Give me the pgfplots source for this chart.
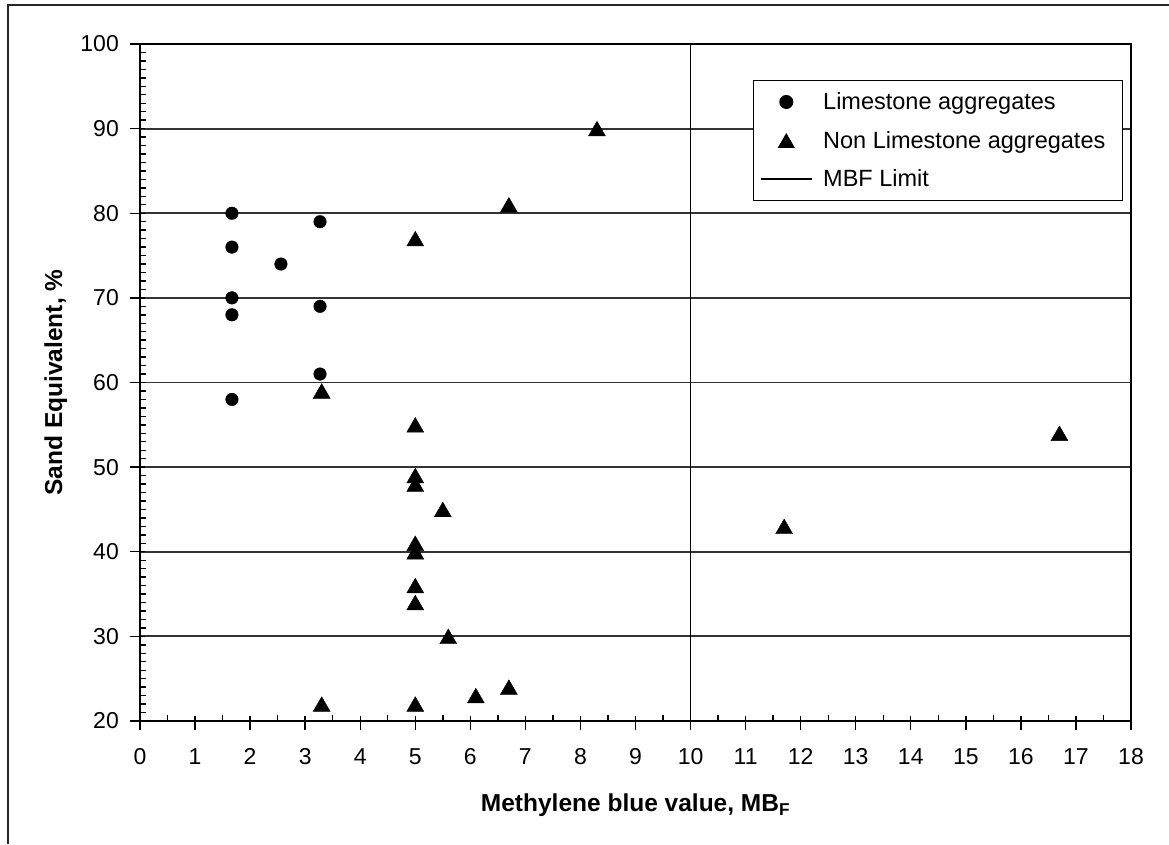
\documentclass[border=0pt]{standalone}
\usepackage{fontspec}
\setmainfont{Liberation Sans}
\usepackage{pgfplots}
\pgfplotsset{compat=1.18}
\begin{document}
\begin{tikzpicture}
\begin{axis}[
  at={(140pt,123pt)}, anchor=south west,
  width=991pt, height=677pt, scale only axis,
  xmin=0, xmax=18, ymin=20, ymax=100,
  xtick={0,1,...,18}, ytick={20,30,...,100},
  minor x tick num=1, minor y tick num=9,
  tick pos=left,
  tick align=inside,
  major tick length=5pt, minor tick length=6pt,
  tick style={black, line width=1.4pt},
  axis line style={line width=2pt},
  ymajorgrids,
  major grid style={black!80, line width=1.8pt},
  extra x ticks={0,1,...,18}, extra y ticks={20,30,...,100},
  extra x tick labels={}, extra y tick labels={},
  extra x tick style={grid=none, tick align=outside, major tick length=9pt},
  extra y tick style={grid=none, tick align=outside, major tick length=10pt},
  /pgf/number format/assume math mode=true,
  tick label style={font=\fontsize{23}{27}\selectfont},
  yticklabel style={anchor=east, inner sep=0pt, xshift=-21pt},
  xticklabel style={anchor=north, inner sep=0pt, yshift=-27pt},
  xlabel={\textbf{Methylene blue value, MB\textsubscript{F}}},
  ylabel={\textbf{Sand Equivalent, \%}},
  label style={font=\fontsize{24.5}{29}\selectfont},
  xlabel style={at={(axis description cs:0.5,-0.1344)}, anchor=base},
  ylabel style={at={(axis description cs:-0.0787,0.5)}, anchor=base},
  legend image code/.code={\draw[mark repeat=2,mark phase=2,#1] plot coordinates {(0pt,0pt) (25pt,0pt) (51pt,0pt)};},
  legend style={at={(0.992,0.9468)}, anchor=north east, draw=black, line width=1.4pt,
    fill=white, font=\fontsize{23.5}{28}\selectfont, row sep=20pt,
    inner xsep=7pt, inner ysep=12pt,
    nodes={inner xsep=10pt, inner ysep=0pt}},
  legend cell align=left,
]
\addplot[only marks, mark=*, mark size=6.3pt, black] coordinates {
 (1.67,80) (1.67,76) (1.67,70) (1.67,68) (1.67,58)
 (2.56,74) (3.27,79) (3.27,69) (3.27,61)
};
\addlegendentry{Limestone aggregates}
\addplot[only marks, mark=triangle*, mark size=9.8pt, black, mark options={yshift=-2.45pt},
  legend image post style={mark size=8.6pt}] coordinates {
 (3.3,59) (3.3,22) (5,77) (5,55) (5,49) (5,48) (5.5,45) (5,41) (5,40)
 (5,36) (5,34) (5.6,30) (5,22) (6.1,23) (6.7,24) (6.7,81) (8.3,90)
 (11.7,43) (16.7,54)
};
\addlegendentry{Non Limestone aggregates}
\addplot[black, line width=1.8pt] coordinates {(10,20) (10,100)};
\addlegendentry{MBF Limit}
\end{axis}
\draw[line width=2pt, black!85] (8pt,0pt) -- (8pt,839pt) -- (1169pt,839pt);
\pgfresetboundingbox
\useasboundingbox (0pt,0pt) rectangle (1169pt,844pt);
\end{tikzpicture}
\end{document}
